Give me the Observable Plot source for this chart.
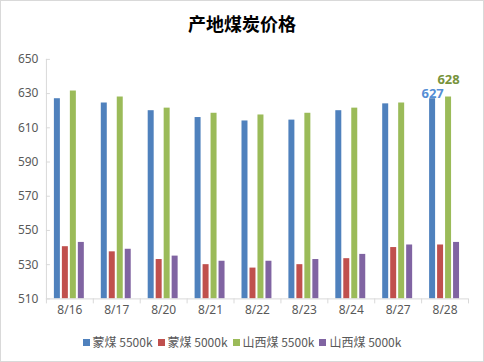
<!DOCTYPE html>
<html>
<head>
<meta charset="utf-8">
<script src="https://cdn.jsdelivr.net/npm/d3@7"></script>
<script src="https://cdn.jsdelivr.net/npm/@observablehq/plot@0.6"></script>
<style>
  html, body { margin: 0; padding: 0; background: #fff; }
  #wrap { position: relative; width: 484px; height: 362px; box-sizing: border-box; border: 1px solid #d9d9d9; background: #fff; overflow: hidden; }
  #title { position: absolute; left: 0; top: 10px; width: 100%; text-align: center; font: bold 18px "Noto Sans CJK SC", sans-serif; line-height: 24px; color: #000; z-index: 2; }
  #chart { position: absolute; left: -1px; top: -1px; }
  #legend { position: absolute; left: 0; top: 332px; width: 100%; display: flex; justify-content: center; gap: 5px; font: 12px "Noto Sans CJK SC", sans-serif; line-height: 18px; color: #595959; }
  .item { display: flex; align-items: center; gap: 3px; }
  .sw { width: 7px; height: 7px; display: inline-block; }
</style>
</head>
<body>
<div id="wrap">
  <div id="title">产地煤炭价格</div>
  <div id="chart"></div>
  <div id="legend"></div>
</div>
<script>
const dates = ["8/16", "8/17", "8/20", "8/21", "8/22", "8/23", "8/24", "8/27", "8/28"];
const series = ["蒙煤 5500k", "蒙煤 5000k", "山西煤 5500k", "山西煤 5000k"];
const colors = ["#4F81BD", "#C0504D", "#9BBB59", "#8064A2"];
const meng5500 = [627, 624.5, 620, 616, 614, 614.5, 620, 624, 627];
const meng5000 = [540.5, 537.5, 533, 530, 528, 530, 533.5, 540, 541.5];
const shanxi5500 = [631.5, 628, 621.5, 618.5, 617.5, 618.5, 621.5, 624.5, 628];
const shanxi5000 = [543, 539, 535, 532, 532, 533, 536, 541.5, 543];
const yTicks = [510, 530, 550, 570, 590, 610, 630, 650];
const labelDate = "8/28";

const values = [meng5500, meng5000, shanxi5500, shanxi5000];
const data = dates.flatMap((d, i) => series.map((s, j) => ({date: d, series: s, value: values[j][i]})));
const blueLabel = data.filter(d => d.date === labelDate && d.series === series[0]);
const greenLabel = data.filter(d => d.date === labelDate && d.series === series[2]);

const chart = Plot.plot({
  width: 484,
  height: 330,
  marginTop: 59,
  marginBottom: 31,
  marginLeft: 43,
  marginRight: 12,
  style: {fontFamily: "'Noto Sans', sans-serif", fontSize: "11px", color: "#595959", background: "transparent"},
  fx: {domain: dates, paddingInner: 0, paddingOuter: 0, label: null, axis: null},
  x: {domain: series, paddingInner: 0.2, paddingOuter: 0.85, axis: null},
  y: {domain: [510, 650], axis: null},
  color: {domain: series, range: colors},
  marks: [
    Plot.barY(data, {fx: "date", x: "series", y1: 510, y2: "value", fill: "series"}),
    Plot.ruleY([510], {stroke: "#d9d9d9"}),
    Plot.axisY({ticks: yTicks, tickSize: -4, tickPadding: 12, stroke: "#d9d9d9", fill: "#595959", label: null, fontSize: 12}),
    Plot.axisFx({anchor: "bottom", domain: dates, tickSize: 0, tickPadding: 7, label: null, fill: "#595959", fontSize: 12}),
    Plot.text(blueLabel, {fx: "date", x: "series", y: "value", text: d => String(d.value), dy: -5, fill: "#558ED5", fontWeight: "bold", fontSize: 13}),
    Plot.text(greenLabel, {fx: "date", x: "series", y: "value", text: d => String(d.value), dy: -17, fill: "#77933C", fontWeight: "bold", fontSize: 13})
  ]
});
document.getElementById("chart").appendChild(chart);

// axis line and category boundary ticks from the library's scales
const fx = chart.scale("fx");
const y = chart.scale("y");
const svg = d3.select(chart);
const g = svg.append("g").attr("stroke", "#d9d9d9").attr("stroke-width", 1);
const x0 = fx.apply(dates[0]);
g.append("line").attr("x1", x0 + 0.5).attr("x2", x0 + 0.5).attr("y1", y.apply(650)).attr("y2", y.apply(510));
const bounds = dates.map(d => fx.apply(d)).concat([fx.apply(dates[dates.length - 1]) + fx.bandwidth]);
bounds.forEach(bx => {
  g.append("line").attr("x1", bx + 0.5).attr("x2", bx + 0.5).attr("y1", y.apply(510)).attr("y2", y.apply(510) + 5);
});

const legend = document.getElementById("legend");
series.forEach((s, i) => {
  const it = document.createElement("span");
  it.className = "item";
  const sw = document.createElement("span");
  sw.className = "sw";
  sw.style.background = colors[i];
  const t = document.createElement("span");
  t.textContent = s;
  it.appendChild(sw);
  it.appendChild(t);
  legend.appendChild(it);
});
</script>
</body>
</html>
